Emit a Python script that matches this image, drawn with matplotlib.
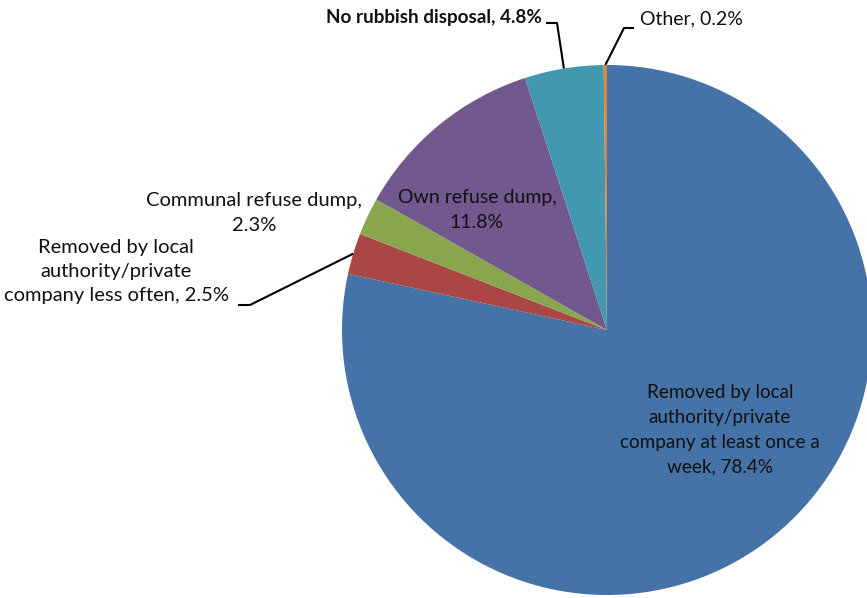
import numpy as np
import matplotlib
matplotlib.use("Agg")
import matplotlib.pyplot as plt

# Refuse removal categories, in clockwise order from 12 o'clock
categories = [
    "Removed by local\nauthority/private\ncompany at least once a\nweek",
    "Removed by local\nauthority/private\ncompany less often",
    "Communal refuse dump",
    "Own refuse dump",
    "No rubbish disposal",
    "Other",
]
shares = [78.4, 2.5, 2.3, 11.8, 4.8, 0.2]
colors = ["#4572A7", "#AA4643", "#89A54E", "#71588F", "#4198AF", "#DB843D"]

W, H = 867, 598
fig = plt.figure(figsize=(W / 100, H / 100), dpi=100)
ax = fig.add_axes([0, 0, 1, 1])

cx, cy, R = 607, 268, 265
wedges, _ = ax.pie(shares, colors=colors, startangle=90, counterclock=False,
                   radius=R, center=(cx, cy), frame=True,
                   wedgeprops=dict(linewidth=0))
ax.set_xlim(0, W)
ax.set_ylim(0, H)
ax.set_aspect("equal")
ax.axis("off")

FAM = ["Lato", "DejaVu Sans"]
INK = "#111111"

def edge_point(w):
    ang = np.deg2rad((w.theta1 + w.theta2) / 2)
    return cx + R * np.cos(ang), cy + R * np.sin(ang)

def label_text(i, wrap=False):
    sep = ",\n" if wrap else ", "
    return f"{categories[i]}{sep}{shares[i]:.1f}%"

def put(x, y, s, size=14, weight="normal", ha="center", ls=1.55):
    ax.text(x, H - y, s, ha=ha, va="center", family=FAM, fontsize=size,
            fontweight=weight, color=INK, linespacing=ls)

# Label on the large slice, inside the pie
put(720, 430, label_text(0), size=13.6, ls=1.55)
# Own refuse dump, inside its slice
put(477, 210, label_text(3, wrap=True), size=14)
# Communal refuse dump, outside without leader
put(254, 213, label_text(2, wrap=True), size=14.5)
# Less frequent removal, with elbow leader
put(116, 271, label_text(1), size=14.5, ls=1.5)
px, py = edge_point(wedges[1])
ax.plot([238, 250, px], [H - 305, H - 305, py], color="black", lw=1.5,
        solid_capstyle="butt")

# Top labels with elbow leaders
put(542, 17, label_text(4), size=13.6, weight="bold", ha="right")
px, py = edge_point(wedges[4])
ax.plot([546, 557, px], [H - 23, H - 23, py], color="black", lw=1.5,
        solid_capstyle="butt")

put(640, 19, label_text(5), size=14, ha="left")
px, py = edge_point(wedges[5])
ax.plot([634, 624, px], [H - 28, H - 28, py], color="black", lw=1.5,
        solid_capstyle="butt")

fig.savefig("out.png", dpi=100, facecolor="white")
